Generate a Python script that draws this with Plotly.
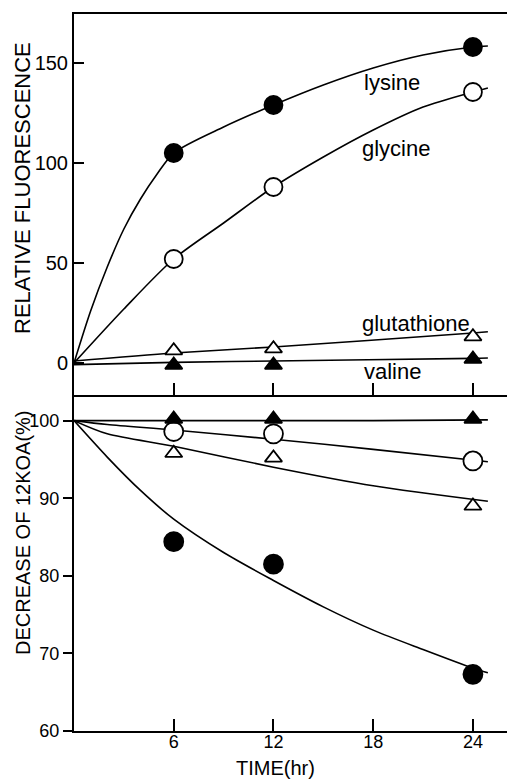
import plotly.graph_objects as go

# ---------------- data ----------------
time_pts = [6, 12, 24]

# top panel: relative fluorescence (measured points)
fl_lysine = [105, 129, 158]
fl_glycine = [52, 88, 135.5]
fl_glutathione = [6.2, 7.2, 13.2]
fl_valine = [-1, -1, 2]

# top panel: drawn curves
curve_t_lys = [0, 1, 2, 3, 4, 5, 6, 9, 12, 15, 18, 21, 24, 24.9]
curve_lysine = [0, 26, 48, 67, 82, 94.5, 105, 118, 129, 139, 147.5, 154, 158, 158.5]
curve_t_gly = [0, 3, 6, 9, 12, 15, 18, 21, 24, 24.9]
curve_glycine = [0, 27, 52, 70, 88, 103, 116.5, 128, 135.5, 137.5]
curve_t_lin = [0, 6, 12, 24, 24.9]
curve_glutathione = [1, 5, 8, 15, 15.6]
curve_valine = [-0.8, 0.3, 1.0, 2.3, 2.5]

# bottom panel: decrease of 12KOA (%)
dec_lysine = [84.4, 81.5, 67.3]
dec_glycine = [98.6, 98.3, 94.8]
dec_glutathione = [95.8, 95.2, 89.0]
dec_valine = [100.2, 100.2, 100.2]

curve_t_dec = [0, 2, 4, 6, 9, 12, 15, 18, 21, 24, 24.9]
curve_dec_lysine = [100, 95.3, 91.0, 87.3, 83.0, 79.4, 76.0, 73.0, 70.5, 68.1, 67.5]
curve_t_dec2 = [0, 2, 6, 12, 18, 24.9]
curve_dec_glycine = [100, 99.5, 98.8, 97.6, 96.3, 94.7]
curve_dec_glutathione = [100, 98.3, 96.7, 94.0, 91.6, 89.6]
curve_dec_valine = [100, 100, 100, 100, 100, 100.1]

x_ticks = [6, 12, 18, 24]
top_y_ticks = [0, 50, 100, 150]
bot_y_ticks = [60, 70, 80, 90, 100]

labels = ["lysine", "glycine", "glutathione", "valine"]
label_pos_x = [17.3, 17.2, 17.2, 17.3]
label_pos_y = [140.5, 107.5, 20, -4]

# ---------------- figure ----------------
BLACK = "black"
LW = 1.6
fig = go.Figure()

def curve(x, y, xa, ya):
    fig.add_trace(go.Scatter(x=x, y=y, mode="lines", xaxis=xa, yaxis=ya,
                             line=dict(color=BLACK, width=LW, shape="spline", smoothing=0.8),
                             showlegend=False, hoverinfo="skip"))

def marks(y, symbol, filled, xa, ya, size):
    fig.add_trace(go.Scatter(x=time_pts, y=y, mode="markers", xaxis=xa, yaxis=ya,
                             marker=dict(symbol=symbol, size=size,
                                         color=BLACK if filled else "white",
                                         line=dict(color=BLACK, width=1.8)),
                             showlegend=False))

# top panel curves
curve(curve_t_lys, curve_lysine, "x2", "y2")
curve(curve_t_gly, curve_glycine, "x2", "y2")
curve(curve_t_lin, curve_glutathione, "x2", "y2")
curve(curve_t_lin, curve_valine, "x2", "y2")
marks(fl_lysine, "circle", True, "x2", "y2", 18)
marks(fl_glycine, "circle", False, "x2", "y2", 18)
marks(fl_glutathione, "triangle-up", False, "x2", "y2", 15)
marks(fl_valine, "triangle-up", True, "x2", "y2", 15)

# bottom panel curves
curve(curve_t_dec, curve_dec_lysine, "x", "y")
curve(curve_t_dec2, curve_dec_glycine, "x", "y")
curve(curve_t_dec2, curve_dec_glutathione, "x", "y")
curve(curve_t_dec2, curve_dec_valine, "x", "y")
marks(dec_lysine, "circle", True, "x", "y", 19)
marks(dec_glycine, "circle", False, "x", "y", 19)
marks(dec_glutathione, "triangle-up", False, "x", "y", 15)
marks(dec_valine, "triangle-up", True, "x", "y", 15)

FONT = "Liberation Sans, Arial, sans-serif"
split = 0.4686
xr = [0, 26.05]

common_x = dict(range=xr, showgrid=False, zeroline=False, showline=True,
                linecolor=BLACK, linewidth=2, ticks="inside", ticklen=12, tickwidth=1.8,
                tickcolor=BLACK, tickvals=x_ticks)

fig.update_layout(
    width=507, height=779,
    margin=dict(l=74, r=0, t=14, b=48),
    paper_bgcolor="white", plot_bgcolor="white",
    font=dict(family=FONT, color=BLACK),
    xaxis=dict(common_x, anchor="y", mirror=False, showticklabels=True,
               ticklabelstandoff=-7,
               tickfont=dict(size=18, family=FONT, color=BLACK)),
    yaxis=dict(domain=[0, split], range=[60, 103.3], showgrid=False, zeroline=False,
               showline=True, linecolor=BLACK, linewidth=2, ticks="outside", ticklen=9,
               tickwidth=1.8, tickcolor=BLACK, tickvals=bot_y_ticks,
               tickfont=dict(size=18, family=FONT, color=BLACK), anchor="x"),
    xaxis2=dict(common_x, anchor="y2", mirror=True, showticklabels=False),
    yaxis2=dict(domain=[split, 1], range=[-16, 174.5], showgrid=False, zeroline=False,
                showline=True, linecolor=BLACK, linewidth=2, ticks="inside", ticklen=10,
                tickwidth=1.8, tickcolor=BLACK, tickvals=top_y_ticks,
                tickfont=dict(size=20, family=FONT, color=BLACK), anchor="x2"),
)

for txt, lx, ly in zip(labels, label_pos_x, label_pos_y):
    fig.add_annotation(x=lx, y=ly, xref="x2", yref="y2", text=txt, showarrow=False,
                       xanchor="left", yanchor="middle",
                       font=dict(size=22, family=FONT, color=BLACK))

PW, PH = 507 - 74, 779 - 14 - 48
def px_to_paper(px, py):
    return (px - 74) / PW, (779 - 48 - py) / PH

for txt, px, py, ang, fs in [("RELATIVE FLUORESCENCE", 23, 188, -90, 22),
                             ("DECREASE OF 12KOA(%)", 23, 533, -90, 20),
                             ("TIME(hr)", 275, 768, 0, 20)]:
    ax_, ay_ = px_to_paper(px, py)
    fig.add_annotation(x=ax_, y=ay_, xref="paper", yref="paper", text=txt,
                       showarrow=False, textangle=ang, xanchor="center", yanchor="middle",
                       font=dict(size=fs, family=FONT, color=BLACK))

fig.write_html("out.html")
